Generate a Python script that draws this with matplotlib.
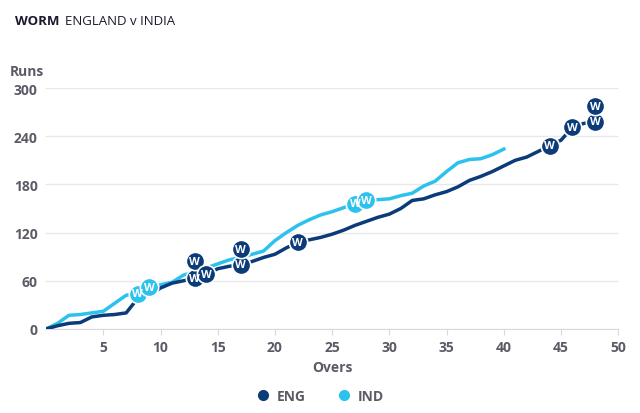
import matplotlib
matplotlib.use("Agg")
import matplotlib.pyplot as plt
from matplotlib.lines import Line2D

plt.rcParams['font.family'] = ['Open Sans', 'DejaVu Sans']

# runs at the end of each over
eng_runs = [0, 4, 7, 8, 15, 17, 18, 20, 38, 42, 51, 57, 60, 63, 68, 75, 78, 80, 84, 89,
            93, 101, 108, 111, 114, 118, 123, 129, 134, 139, 143, 150, 160, 162, 167, 171,
            177, 185, 190, 196, 203, 210, 214, 221, 228, 235, 251, 256, 258]
ind_runs = [0, 7, 17, 18, 20, 22, 32, 42, 44, 52, 55, 58, 67, 71, 76, 81, 86, 89, 93, 97,
            110, 120, 129, 136, 142, 146, 151, 156, 160, 161, 162, 166, 169, 178, 184, 196,
            207, 211, 212, 217, 224]
eng_overs = list(range(len(eng_runs)))
ind_overs = list(range(len(ind_runs)))

# fall of wickets (over, runs)
eng_wkt_overs = [13, 13, 14, 17, 17, 22, 44, 46, 48, 48]
eng_wkt_runs = [63, 84, 68, 80, 99, 108, 228, 251, 258, 277]
ind_wkt_overs = [8, 9, 27, 28]
ind_wkt_runs = [44, 52, 156, 160]

eng_col = "#0b3b78"
ind_col = "#2cc2ee"
txt_col = "#5b5b66"

fig = plt.figure(figsize=(6.4, 4.14), dpi=100)
ax = fig.add_axes([0.072, 0.203, 0.894, 0.582])

ax.plot(eng_overs, eng_runs, color=eng_col, lw=2.5, zorder=3)
ax.plot(ind_overs, ind_runs, color=ind_col, lw=2.5, zorder=2)

for overs, runs, col in [(ind_wkt_overs, ind_wkt_runs, ind_col),
                         (eng_wkt_overs, eng_wkt_runs, eng_col)]:
    ax.scatter(overs, runs, s=175, color=col, edgecolor="white", linewidth=1.2, zorder=4,
               clip_on=False)
    for o, r in zip(overs, runs):
        ax.text(o, r, "W", color="white", fontsize=8, fontweight="bold",
                ha="center", va="center", zorder=5)

ax.set_xlim(0, 50)
ax.set_ylim(0, 300)
ax.set_xticks([5, 10, 15, 20, 25, 30, 35, 40, 45, 50])
ax.set_yticks([0, 60, 120, 180, 240, 300])
ax.grid(axis="y", color="#e8e8ec", lw=1)
ax.set_axisbelow(True)
for s in ["top", "right", "left"]:
    ax.spines[s].set_visible(False)
ax.spines["bottom"].set_color("#d8d8de")
ax.tick_params(axis="y", length=0, pad=6, labelsize=10, labelcolor=txt_col)
ax.tick_params(axis="x", length=4, color="#d8d8de", pad=4, labelsize=10, labelcolor=txt_col)
for lab in ax.get_xticklabels() + ax.get_yticklabels():
    lab.set_fontweight("bold")

ax.set_xlabel("Overs", fontsize=10, fontweight="bold", color=txt_col, labelpad=4)
fig.text(0.016, 0.825, "Runs", fontsize=10, fontweight="bold", color=txt_col,
         ha="left", va="center")

fig.text(0.023, 0.947, "WORM", fontsize=9.5, fontweight="bold", color="#1a1a2e",
         ha="left", va="center")
fig.text(0.102, 0.947, "ENGLAND v INDIA", fontsize=9.5, color="#1a1a2e",
         ha="left", va="center")

handles = [Line2D([], [], ls="", marker="o", ms=7, color=eng_col),
           Line2D([], [], ls="", marker="o", ms=7, color=ind_col)]
leg = fig.legend(handles, ["ENG", "IND"], loc="center", bbox_to_anchor=(0.5, 0.042),
                 ncol=2, frameon=False, fontsize=10, handletextpad=0.5,
                 columnspacing=2.2, handlelength=1.0)
for t in leg.get_texts():
    t.set_color(txt_col)
    t.set_fontweight("bold")

fig.savefig("out.png", dpi=100)
